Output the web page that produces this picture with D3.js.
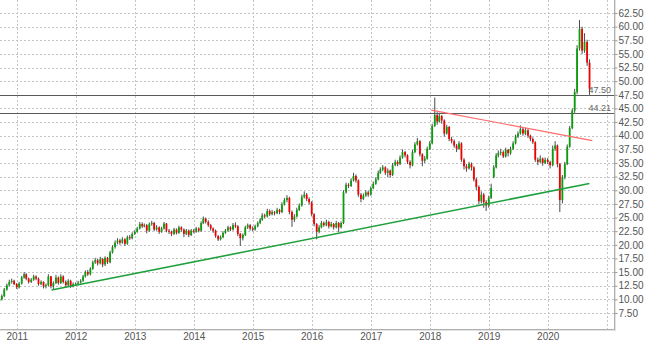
<!DOCTYPE html>
<html><head><meta charset="utf-8">
<script src="https://cdn.jsdelivr.net/npm/d3@7"></script>
<style>
html,body{margin:0;padding:0;background:#fff;}
svg{display:block;font-family:"Liberation Sans",Arial,sans-serif;}
</style></head>
<body><svg id="c" width="645" height="348"></svg>
<script>
// ---- data: semi-monthly candles [open, high, low, close], starting 2010-09-16 ----
const y2010 = [[9.7,10.3,9.5,10.0],[10.0,10.9,9.8,10.6],[10.6,12.1,10.4,11.8],[11.8,12.9,11.6,12.6],[12.6,13.6,12.4,13.2],[13.2,13.8,12.9,13.4],[13.4,13.6,12.6,12.8]];
const y2011 = [[12.8,13.0,11.9,12.2],[12.2,13.2,12.0,12.9],[12.9,14.3,12.7,14.0],[14.0,15.0,13.8,14.6],[14.6,14.8,13.5,13.8],[13.8,14.0,12.9,13.2],[13.2,13.9,13.0,13.6],[13.6,14.5,13.4,14.2],[14.2,14.4,13.5,13.8],[13.8,14.0,12.5,12.8],[12.8,13.5,12.6,13.2],[13.2,13.3,12.0,12.4],[12.4,12.9,12.0,12.6],[12.6,14.6,12.4,14.2],[14.2,14.3,12.0,12.4],[12.4,13.3,11.8,13.0],[13.0,14.5,12.8,14.0],[14.0,14.2,12.7,13.0],[13.0,14.6,12.8,14.2],[14.2,14.4,12.9,13.2],[13.2,13.5,12.2,12.6],[12.6,13.7,12.4,13.4],[13.4,13.6,12.1,12.4],[12.4,13.1,12.2,12.8]];
const y2012 = [[12.8,13.1,12.5,12.9],[12.9,13.4,12.6,13.1],[13.1,13.7,12.9,13.4],[13.4,14.5,13.2,14.2],[14.2,15.3,14.0,15.0],[15.0,15.4,14.3,14.6],[14.6,15.9,14.4,15.6],[15.6,17.1,15.4,16.8],[16.8,17.6,16.5,17.2],[17.2,17.4,16.2,16.6],[16.6,17.8,16.4,17.4],[17.4,17.6,15.9,16.4],[16.4,17.9,16.1,17.6],[17.6,17.8,16.5,16.8],[16.8,18.9,16.6,18.6],[18.6,19.9,18.4,19.6],[19.6,20.8,19.3,20.4],[20.4,21.2,20.1,20.8],[20.8,21.1,20.0,20.4],[20.4,21.4,20.2,21.0],[21.0,21.2,19.8,20.2],[20.2,21.7,20.0,21.4],[21.4,21.8,20.9,21.2],[21.2,22.3,21.0,22.0]];
const y2013 = [[22.0,22.7,21.8,22.4],[22.4,23.3,22.2,23.0],[23.0,24.2,22.8,23.8],[23.8,24.1,23.1,23.4],[23.4,23.9,23.2,23.6],[23.6,23.8,22.1,22.6],[22.6,24.1,22.4,23.8],[23.8,24.4,23.5,24.0],[24.0,24.2,22.5,22.8],[22.8,23.6,22.6,23.2],[23.2,23.4,22.0,22.4],[22.4,23.3,22.2,23.0],[23.0,24.2,22.8,23.9],[23.9,24.0,22.3,22.6],[22.6,22.9,22.0,22.4],[22.4,22.6,21.6,22.0],[22.0,23.1,21.8,22.8],[22.8,23.0,21.9,22.2],[22.2,23.5,22.0,23.2],[23.2,23.4,22.4,22.8],[22.8,23.0,21.4,22.0],[22.0,22.9,21.8,22.6],[22.6,22.8,21.4,21.8],[21.8,22.9,21.6,22.6]];
const y2014 = [[22.6,22.9,22.1,22.4],[22.4,23.3,22.2,23.0],[23.0,23.2,22.3,22.6],[22.6,24.3,22.4,24.0],[24.0,25.2,23.8,24.8],[24.8,25.0,23.9,24.2],[24.2,24.5,23.3,23.6],[23.6,23.8,22.6,23.0],[23.0,23.2,22.2,22.6],[22.6,22.8,21.3,21.6],[21.6,21.8,20.7,21.0],[21.0,21.7,20.8,21.4],[21.4,22.5,21.2,22.2],[22.2,22.9,22.0,22.6],[22.6,23.5,22.4,23.2],[23.2,23.4,22.5,22.8],[22.8,24.0,22.6,23.6],[23.6,24.1,23.1,23.4],[23.4,23.6,21.6,22.0],[22.0,22.2,19.8,21.2],[21.2,22.1,20.8,21.8],[21.8,23.5,21.6,23.2],[23.2,23.9,22.9,23.6],[23.6,23.8,22.6,23.0]];
const y2015 = [[23.0,23.4,22.5,22.8],[22.8,23.7,22.6,23.4],[23.4,24.3,23.2,24.0],[24.0,24.9,23.8,24.6],[24.6,25.8,24.4,25.4],[25.4,25.7,24.9,25.2],[25.2,26.6,25.0,26.2],[26.2,26.5,25.3,25.6],[25.6,26.4,25.4,26.0],[26.0,26.2,25.4,25.8],[25.8,26.8,25.6,26.4],[26.4,26.6,25.6,26.0],[26.0,27.8,25.8,27.4],[27.4,28.6,27.2,28.2],[28.2,29.1,27.8,28.6],[28.6,28.8,25.6,26.0],[26.0,26.3,23.3,24.6],[24.6,25.6,24.2,25.2],[25.2,26.8,25.0,26.4],[26.4,27.6,26.2,27.2],[27.2,29.2,27.0,28.8],[28.8,29.8,28.5,29.2],[29.2,29.5,28.0,28.4],[28.4,28.7,27.4,27.8]];
const y2016 = [[27.8,28.0,25.2,25.6],[25.6,25.8,23.4,23.8],[23.8,24.0,21.0,22.4],[22.4,23.6,22.1,23.2],[23.2,24.4,23.0,24.0],[24.0,24.3,23.3,23.6],[23.6,24.6,23.4,24.2],[24.2,24.4,23.0,23.4],[23.4,24.2,23.2,23.8],[23.8,24.0,22.8,23.2],[23.2,24.4,23.0,24.0],[24.0,24.2,22.3,23.2],[23.2,24.3,23.0,24.0],[24.0,30.0,23.8,29.6],[29.6,31.4,29.4,31.0],[31.0,31.3,30.4,30.8],[30.8,32.2,30.6,31.8],[31.8,33.2,31.6,32.6],[32.6,32.9,31.4,31.8],[31.8,32.0,28.8,29.2],[29.2,29.5,27.8,28.4],[28.4,29.4,28.2,29.0],[29.0,30.0,28.8,29.6],[29.6,29.9,28.8,29.2]];
const y2017 = [[29.2,30.7,29.0,30.4],[30.4,31.6,30.2,31.2],[31.2,32.4,31.0,32.0],[32.0,33.6,31.8,33.2],[33.2,34.2,33.0,33.8],[33.8,34.6,33.5,34.2],[34.2,34.4,32.8,33.2],[33.2,34.0,32.4,33.6],[33.6,33.8,32.3,32.8],[32.8,35.0,32.6,34.6],[34.6,35.6,34.4,35.2],[35.2,35.5,34.4,34.8],[34.8,36.4,34.6,36.0],[36.0,37.5,35.8,37.0],[37.0,37.2,36.0,36.4],[36.4,36.6,34.8,35.2],[35.2,35.5,34.0,34.6],[34.6,37.4,34.4,37.0],[37.0,38.8,36.8,38.4],[38.4,39.6,38.2,39.0],[39.0,39.2,36.2,36.6],[36.6,36.8,34.4,35.4],[35.4,36.3,35.0,35.8],[35.8,38.0,35.6,37.6]];
const y2018 = [[37.6,39.0,37.4,38.6],[38.6,42.2,38.4,41.8],[41.8,47.0,41.6,43.8],[43.8,44.3,42.0,42.6],[42.6,44.2,42.4,43.6],[43.6,43.8,42.2,42.8],[42.8,43.0,39.8,40.4],[40.4,42.0,40.2,41.6],[41.6,41.8,39.0,39.4],[39.4,39.8,38.6,39.0],[39.0,39.3,37.8,38.2],[38.2,38.5,37.0,37.6],[37.6,39.0,37.4,38.6],[38.6,38.8,35.2,35.6],[35.6,35.9,33.8,34.4],[34.4,34.8,33.4,34.0],[34.0,35.2,33.8,34.8],[34.8,35.1,33.6,34.2],[34.2,34.4,31.6,32.0],[32.0,32.3,30.0,30.6],[30.6,30.9,27.4,28.0],[28.0,29.8,27.6,29.2],[29.2,29.5,26.8,27.8],[27.8,28.2,26.2,27.2]];
const y2019 = [[27.2,29.0,26.8,28.6],[28.6,31.2,28.4,30.4],[32.4,34.6,32.2,34.2],[34.2,36.8,34.0,36.4],[36.4,37.3,36.0,36.8],[36.8,37.6,36.4,37.0],[37.0,37.3,35.9,36.2],[36.2,37.8,36.0,37.4],[37.4,37.6,36.2,36.8],[36.8,38.0,36.5,37.6],[37.6,39.0,37.4,38.6],[38.6,40.2,38.4,39.8],[39.8,40.8,39.6,40.4],[40.4,41.9,40.2,41.2],[41.2,41.5,40.0,40.4],[40.4,41.4,40.1,41.0],[41.0,41.2,39.6,40.0],[40.0,40.2,39.0,39.4],[39.4,39.7,38.5,38.8],[38.8,39.0,35.2,35.6],[35.6,36.0,34.6,35.2],[35.2,36.4,35.0,35.8],[35.8,36.0,34.5,35.0],[35.0,36.0,34.8,35.6]];
const y2020 = [[35.6,35.9,34.8,35.2],[35.2,35.4,34.0,34.6],[34.6,38.2,34.4,37.6],[37.6,39.0,37.2,38.2],[38.2,38.4,34.2,34.8],[34.8,35.0,26.0,28.2],[28.2,32.8,27.6,32.4],[32.4,35.2,32.0,34.8],[34.8,38.4,34.6,38.0],[38.0,41.8,37.8,41.4],[41.4,45.0,41.2,44.6],[44.6,48.6,44.2,48.0],[48.0,56.6,47.6,56.0],[56.0,61.2,55.6,59.6],[59.6,60.0,55.0,55.6],[55.6,58.8,55.2,57.2],[57.2,57.6,52.8,53.4],[53.4,54.0,47.5,48.6]];

const yTicks = [7.5,10,12.5,15,17.5,20,22.5,25,27.5,30,32.5,35,37.5,40,42.5,45,47.5,50,52.5,55,57.5,60,62.5];
const yearTicks = [2011,2012,2013,2014,2015,2016,2017,2018,2019,2020];
const yearGrid = [2011,2012,2013,2014,2015,2016,2017,2018,2019,2020,2021];
const levels = [47.50, 44.21];
const greenTrend = [["2011-08-05", 11.7], ["2020-09-15", 31.25]];
const redTrend = [["2018-01-10", 44.7], ["2020-10-03", 39.1]];

// ---- build ----
const rows = [].concat(y2010,y2011,y2012,y2013,y2014,y2015,y2016,y2017,y2018,y2019,y2020);
const candles = rows.map((r,i)=>({
  date: new Date(2010, 8 + Math.ceil(i/2), i%2===0 ? 16 : 1),
  o:r[0], h:r[1], l:r[2], c:r[3]
}));

const W = 645, H = 348;
const plotR = 614.5, plotB = 329.5;
const svg = d3.select("#c");

const x = d3.scaleTime()
  .domain([new Date(2011,0,1), new Date(2020,0,1)])
  .range([16.7, 547.7]);
const y = d3.scaleLinear().domain([4.383, 64.883]).range([330, 0]);

const plot = svg.append("g");
plot.append("clipPath").attr("id","clip").append("rect")
  .attr("x",0).attr("y",0).attr("width",plotR).attr("height",plotB);

// grid
const grid = plot.append("g").attr("stroke","#c4c4c4").attr("stroke-dasharray","2,2").attr("stroke-width",1);
grid.selectAll("line.h").data(yTicks).join("line").attr("class","h")
  .attr("x1",0).attr("x2",plotR)
  .attr("y1",d=>Math.round(y(d))+0.5).attr("y2",d=>Math.round(y(d))+0.5);
grid.selectAll("line.v").data(yearGrid).join("line").attr("class","v")
  .attr("x1",d=>Math.round(x(new Date(d,0,1)))+0.5).attr("x2",d=>Math.round(x(new Date(d,0,1)))+0.5)
  .attr("y1",0).attr("y2",plotB);

// horizontal levels
const lv = plot.append("g");
lv.selectAll("line").data(levels).join("line")
  .attr("x1",0).attr("x2",plotR)
  .attr("y1",d=>Math.round(y(d))+0.5).attr("y2",d=>Math.round(y(d))+0.5)
  .attr("stroke","#5a5a5a").attr("stroke-width",1);
lv.selectAll("text").data(levels).join("text")
  .attr("x",611).attr("y",d=>Math.round(y(d))-2)
  .attr("text-anchor","end").attr("font-size",9).attr("fill","#666")
  .text(d=>d3.format(".2f")(d));

// candles
const cg = plot.append("g").attr("clip-path","url(#clip)");
const bw = 1.8;
cg.selectAll("line.wick").data(candles).join("line").attr("class","wick")
  .attr("x1",d=>x(d.date)).attr("x2",d=>x(d.date))
  .attr("y1",d=>y(d.h)).attr("y2",d=>y(d.l))
  .attr("stroke","#4a4a4a").attr("stroke-width",1);
cg.selectAll("rect.body").data(candles).join("rect").attr("class","body")
  .attr("x",d=>x(d.date)-bw/2).attr("width",bw)
  .attr("y",d=>y(Math.max(d.o,d.c)))
  .attr("height",d=>Math.max(1, Math.abs(y(d.o)-y(d.c))))
  .attr("fill",d=>d.c>=d.o ? "#0a9e0a" : "#f00000");

// trendlines
const line = d3.line().x(d=>x(new Date(d[0]))).y(d=>y(d[1]));
plot.append("path").attr("d",line(greenTrend)).attr("fill","none")
  .attr("stroke","#1ea03a").attr("stroke-width",1.6);
plot.append("path").attr("d",line(redTrend)).attr("fill","none")
  .attr("stroke","#ff6a6a").attr("stroke-width",1.1);

// borders
svg.append("line").attr("x1",plotR).attr("x2",plotR).attr("y1",0).attr("y2",plotB+0.5)
  .attr("stroke","#b0b0b0");
svg.append("line").attr("x1",0).attr("x2",plotR).attr("y1",plotB).attr("y2",plotB)
  .attr("stroke","#b0b0b0");
svg.append("line").attr("x1",plotR+1).attr("x2",plotR+1).attr("y1",0).attr("y2",plotB+1.5)
  .attr("stroke","#e2e2e2");
svg.append("line").attr("x1",0).attr("x2",plotR+1).attr("y1",plotB+1).attr("y2",plotB+1)
  .attr("stroke","#e2e2e2");

// right axis
const yAxis = d3.axisRight(y).tickValues(yTicks).tickFormat(d3.format(".2f")).tickSize(3).tickPadding(1);
const ya = svg.append("g").attr("transform",`translate(${plotR},0)`).call(yAxis);
ya.select(".domain").remove();
ya.selectAll(".tick line").attr("stroke","#999");
ya.selectAll("text").attr("font-size",10).attr("fill","#555")
  .attr("font-family","'Liberation Sans',Arial,sans-serif");

// bottom axis labels
const xAxis = d3.axisBottom(x).tickValues(yearTicks.map(d=>new Date(d,0,1)))
  .tickFormat(d3.timeFormat("%Y")).tickSize(0).tickPadding(3);
const xa = svg.append("g").attr("transform",`translate(0,${plotB})`).call(xAxis);
xa.select(".domain").remove();
xa.selectAll("text").attr("font-size",10).attr("fill","#555")
  .attr("font-family","'Liberation Sans',Arial,sans-serif");
</script></body></html>
